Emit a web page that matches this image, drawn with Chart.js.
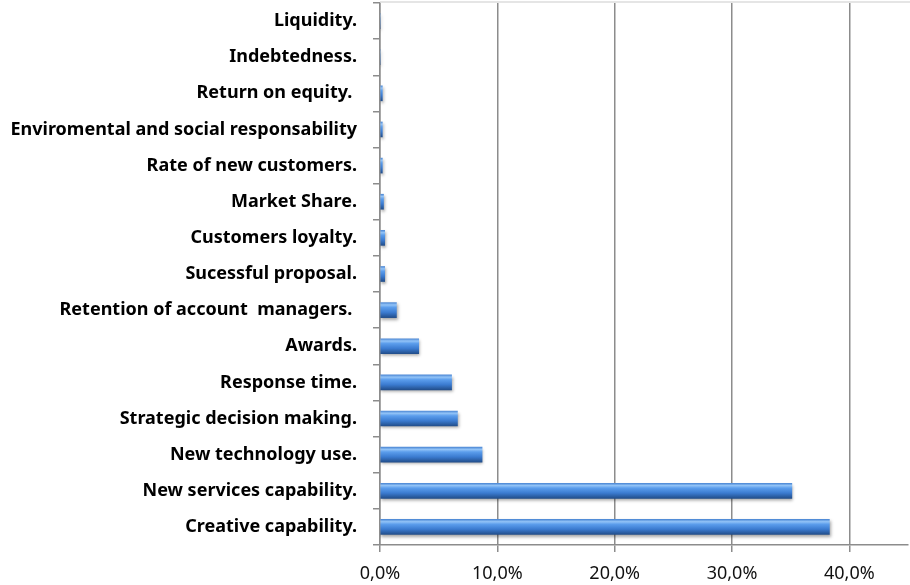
<!DOCTYPE html>
<html>
<head>
<meta charset="utf-8">
<script src="https://cdn.jsdelivr.net/npm/chart.js"></script>
<style>
  html, body { margin: 0; padding: 0; background: #fff; }
  #wrap { width: 910px; height: 585px; }
</style>
</head>
<body>
<div id="wrap"><canvas id="kpiChart"></canvas></div>
<script>
// Indicator names, top to bottom
const indicators = [
    'Liquidity.',
    'Indebtedness.',
    'Return on equity. ',
    'Enviromental and social responsability',
    'Rate of new customers.',
    'Market Share.',
    'Customers loyalty.',
    'Sucessful proposal.',
    'Retention of account  managers. ',
    'Awards.',
    'Response time.',
    'Strategic decision making.',
    'New technology use.',
    'New services capability.',
    'Creative capability.'
];

// Share of responses (%)
const shares = [0, 0, 0.2, 0.2, 0.2, 0.3, 0.4, 0.4, 1.4, 3.3, 6.1, 6.6, 8.7, 35.1, 38.3];

// X axis ticks
const axisMax = 45;
const axisStep = 10;

const BAR_H = 15;

// Vertical gradient per bar, gives the rounded "tube" look
const barFill = (context) => {
    const chart = context.chart;
    const yScale = chart.scales.y;
    if (context.type !== 'data' || !yScale) return '#4f8fd8';
    const yc = yScale.getPixelForValue(context.dataIndex);
    if (!Number.isFinite(yc)) return '#4f8fd8';
    const g = chart.ctx.createLinearGradient(0, yc - BAR_H / 2, 0, yc + BAR_H / 2);
    g.addColorStop(0, '#4f8ad6');
    g.addColorStop(0.15, '#92c3f7');
    g.addColorStop(0.32, '#5b9dec');
    g.addColorStop(0.65, '#3b7bd0');
    g.addColorStop(1, '#224e8b');
    return g;
};

// Drop shadow under bars + thin top frame line
const barShadow = {
    id: 'barShadow',
    beforeDatasetsDraw(chart) {
        const c = chart.ctx;
        c.save();
        c.shadowColor = 'rgba(0,0,0,0.35)';
        c.shadowBlur = 3;
        c.shadowOffsetX = 1;
        c.shadowOffsetY = 2;
    },
    afterDatasetsDraw(chart) {
        chart.ctx.restore();
    },
    afterDraw(chart) {
        const c = chart.ctx;
        const a = chart.chartArea;
        c.save();
        c.strokeStyle = '#dcdcdc';
        c.lineWidth = 1.5;
        c.beginPath();
        c.moveTo(a.left, a.top - 1);
        c.lineTo(chart.width, a.top - 1);
        c.stroke();
        c.restore();
    }
};

const ctx = document.getElementById('kpiChart').getContext('2d');
new Chart(ctx, {
    type: 'bar',
    data: {
        labels: indicators,
        datasets: [{
            data: shares,
            backgroundColor: barFill,
            borderWidth: 0,
            barThickness: BAR_H
        }]
    },
    options: {
        indexAxis: 'y',
        responsive: true,
        maintainAspectRatio: false,
        animation: false,
        layout: { padding: { top: 3, right: 2, left: 0, bottom: 0 } },
        plugins: {
            legend: { display: false },
            tooltip: { enabled: false }
        },
        scales: {
            x: {
                min: 0,
                max: axisMax,
                ticks: {
                    stepSize: axisStep,
                    color: '#111',
                    padding: 11,
                    maxRotation: 0,
                    font: { family: 'Noto Sans', size: 18 },
                    callback: (v) => v.toFixed(1).replace('.', ',') + '%'
                },
                afterBuildTicks: (scale) => {
                    scale.ticks = scale.ticks.filter(t => t.value % axisStep === 0);
                },
                afterFit: (scale) => {
                    scale.height = 40;
                    scale.paddingLeft = 0;
                    scale.paddingRight = 0;
                },
                grid: {
                    color: '#8c8c8c',
                    lineWidth: 1.5,
                    tickLength: 7,
                    tickColor: '#8c8c8c'
                },
                border: { color: '#8c8c8c', width: 1.5 }
            },
            y: {
                ticks: {
                    color: '#000',
                    padding: 16,
                    autoSkip: false,
                    font: { family: 'Noto Sans', size: 18, weight: 'bold' }
                },
                afterFit: (scale) => {
                    scale.width = 380;
                    scale.paddingTop = 0;
                    scale.paddingBottom = 0;
                },
                grid: {
                    offset: true,
                    drawOnChartArea: false,
                    tickLength: 7,
                    tickColor: '#8c8c8c',
                    lineWidth: 1.5
                },
                border: { color: '#8c8c8c', width: 1.5 }
            }
        }
    },
    plugins: [barShadow]
});
</script>
</body>
</html>
